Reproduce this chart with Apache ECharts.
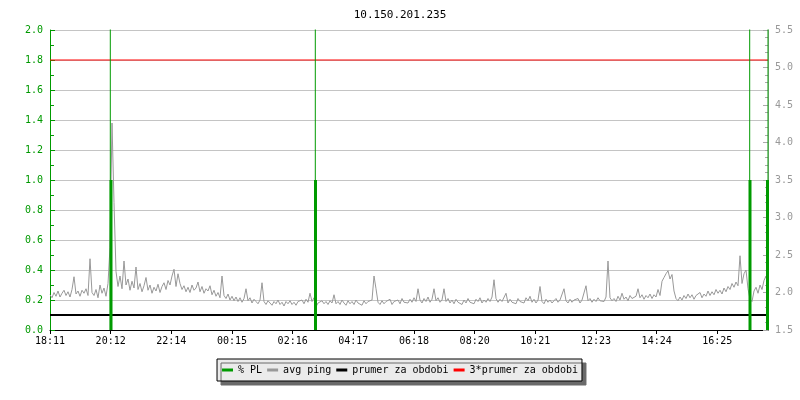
<!DOCTYPE html>
<html>
<head>
<meta charset="utf-8">
<script src="https://cdn.jsdelivr.net/npm/echarts@6/dist/echarts.min.js"></script>
<style>html,body{margin:0;padding:0;background:#fff}#c{width:800px;height:400px}</style>
</head>
<body>
<div id="c"></div>
<script>
const chartTitle = '10.150.201.235';
const xLabels = ['18:11','20:12','22:14','00:15','02:16','04:17','06:18','08:20','10:21','12:23','14:24','16:25'];
const xSpanMinutes = 1436;          // minutes after 18:11 shown on the axis
const xLabelStep = 364 / 3;         // minutes between labelled ticks
const pingStep = 4;                 // minutes between avg ping samples
const pingValues = [
 1.97,1.93,2.00,1.95,2.02,1.94,1.99,2.03,1.96,2.01,1.94,2.04,2.21,1.98,2.02,1.95,2.03,1.99,2.05,1.96,
 2.45,2.00,1.96,2.04,1.93,2.10,1.99,2.06,1.95,2.12,2.60,4.26,3.20,2.28,2.08,2.22,2.05,2.42,2.10,2.18,
 2.03,2.15,2.06,2.34,2.04,2.12,2.01,2.09,2.20,2.03,2.10,1.99,2.07,2.02,2.11,2.00,2.08,2.13,2.04,2.16,
 2.10,2.22,2.31,2.08,2.25,2.12,2.04,2.09,2.01,2.07,2.00,2.10,2.03,2.06,2.14,2.01,2.08,1.99,2.05,2.02,
 2.09,1.97,2.03,1.95,2.00,1.93,2.22,1.96,1.92,1.98,1.90,1.95,1.89,1.94,1.88,1.93,1.87,1.92,2.05,1.89,
 1.93,1.86,1.91,1.88,1.85,1.90,2.13,1.88,1.84,1.89,1.86,1.83,1.88,1.85,1.90,1.84,1.87,1.82,1.88,1.85,
 1.89,1.84,1.87,1.83,1.88,1.86,1.90,1.85,1.91,1.87,1.99,1.88,1.93,1.81,1.86,1.84,1.89,1.85,1.88,1.84,
 1.89,1.86,1.97,1.85,1.88,1.84,1.90,1.86,1.83,1.89,1.85,1.88,1.84,1.90,1.86,1.87,1.83,1.89,1.85,1.88,
 1.86,1.90,2.22,2.05,1.87,1.84,1.89,1.85,1.88,1.86,1.91,1.84,1.88,1.86,1.90,1.85,1.92,1.87,1.89,1.86,
 1.91,1.87,1.93,1.88,2.05,1.90,1.86,1.92,1.88,1.94,1.87,1.91,2.05,1.89,1.93,1.87,1.90,2.05,1.88,1.92,
 1.86,1.90,1.85,1.91,1.87,1.89,1.84,1.90,1.86,1.92,1.87,1.89,1.85,1.91,1.88,1.93,1.86,1.90,1.87,1.92,
 1.88,1.94,2.17,1.92,1.87,1.91,1.88,1.90,1.99,1.86,1.91,1.87,1.89,1.85,1.92,1.88,1.90,1.86,1.93,1.89,
 1.95,1.87,1.91,1.86,1.90,2.08,1.88,1.85,1.91,1.87,1.90,1.86,1.89,1.92,1.87,1.90,1.88,2.05,1.89,1.86,
 1.91,1.87,1.90,1.88,1.92,1.86,1.90,1.88,2.09,1.89,1.92,1.87,1.91,1.88,1.93,1.89,1.91,1.88,1.94,2.42,
 1.93,1.89,1.92,1.88,1.95,1.90,1.99,1.91,1.94,1.89,1.96,1.92,1.90,1.95,2.05,1.93,1.97,1.91,1.96,1.93,
 1.98,1.92,1.97,1.94,2.04,1.96,2.15,2.20,2.25,2.29,2.18,2.24,2.02,1.92,1.89,1.94,1.90,1.96,1.92,1.98,
 1.93,1.97,1.91,1.96,1.94,2.00,1.93,1.98,1.95,2.02,1.96,2.01,1.97,2.04,1.99,2.03,1.98,2.06,2.01,2.08,
 2.04,2.12,2.07,2.14,2.09,2.49,2.12,2.25,2.30,2.05,1.91,1.88,2.02,2.07,1.99,2.10,2.04,2.16,2.22,2.13
];
const prumerValue = 1.7;            // prumer za obdobi (ms)
const prumer3Value = 5.1;           // 3*prumer za obdobi (ms)
// % PL samples of 1 %: [minutes after 18:11, percent]
const plBlocks = [[122, 1.0], [531, 1.0], [1400, 1.0], [1435, 1.0]];
// % PL samples of total loss (100 %, beyond the axis): minutes after 18:11
const plTotalLossTimes = [120.6, 530.6, 1399.4, 1436];
const plTotalLossValue = 100;

const GREEN = '#009a00';
const MONO = '"DejaVu Sans Mono", "Liberation Mono", monospace';
const pingData = pingValues.map((v, i) => [i * pingStep, v]);
const plSpikeData = [];
plTotalLossTimes.forEach((t, i) => {
  if (i) plSpikeData.push(['-', '-']);
  plSpikeData.push([t, 0], [t, plTotalLossValue]);
});

const chart = echarts.init(document.getElementById('c'), null, {renderer: 'canvas'});
chart.setOption({
  animation: false,
  backgroundColor: '#ffffff',
  title: {
    text: chartTitle, left: 'center', top: 5,
    textStyle: {fontFamily: MONO, fontSize: 11, fontWeight: 'normal', color: '#000'}
  },
  grid: {left: 50, right: 32, top: 30, bottom: 70, containLabel: false},
  legend: {
    data: ['% PL', 'avg ping', 'prumer za obdobi', '3*prumer za obdobi'],
    left: 'center', top: 359,
    icon: 'rect', itemWidth: 11, itemHeight: 3, itemGap: 5,
    padding: [6, 4, 6, 5],
    backgroundColor: '#ebebeb', borderColor: '#000', borderWidth: 1,
    shadowColor: '#6a6a6a', shadowBlur: 0, shadowOffsetX: 4, shadowOffsetY: 4,
    textStyle: {fontFamily: MONO, fontSize: 10, color: '#000'}
  },
  xAxis: {
    type: 'value', min: 0, max: xSpanMinutes, interval: xLabelStep,
    axisLine: {show: true, onZero: false, lineStyle: {color: '#000', width: 1}},
    axisTick: {show: true, length: 4, lineStyle: {color: '#000'}},
    splitLine: {show: false},
    axisLabel: {
      color: '#000', fontFamily: MONO, fontSize: 10, margin: 6, showMaxLabel: false,
      formatter: v => { const i = Math.round(v / xLabelStep); return i < xLabels.length ? xLabels[i] : ''; }
    }
  },
  yAxis: [
    {
      type: 'value', position: 'left', min: 0, max: 2, interval: 0.2,
      axisLine: {show: true, lineStyle: {color: GREEN, width: 1}},
      axisTick: {show: true, inside: true, length: 5, lineStyle: {color: GREEN}},
      minorTick: {show: true, splitNumber: 2, length: 4, lineStyle: {color: GREEN}},
      splitLine: {show: true, lineStyle: {color: '#c4c4c4', width: 1}},
      axisLabel: {color: GREEN, fontFamily: MONO, fontSize: 10, margin: 7, formatter: v => v.toFixed(1)}
    },
    {
      type: 'value', position: 'right', min: 1.5, max: 5.5, interval: 0.5,
      axisLine: {show: true, lineStyle: {color: '#aaaaaa', width: 1}},
      axisTick: {show: true, inside: true, length: 5, lineStyle: {color: '#aaaaaa'}},
      minorTick: {show: true, splitNumber: 5, length: 3, lineStyle: {color: '#aaaaaa'}},
      splitLine: {show: false},
      axisLabel: {color: '#999999', fontFamily: MONO, fontSize: 10, margin: 7, formatter: v => v.toFixed(1)}
    }
  ],
  series: [
    {
      name: 'avg ping', type: 'line', yAxisIndex: 1, data: pingData,
      showSymbol: false, symbol: 'none', z: 2,
      lineStyle: {color: '#999999', width: 1}, itemStyle: {color: '#999999'}
    },
    {
      name: 'prumer za obdobi', type: 'line', yAxisIndex: 1,
      data: [[0, prumerValue], [xSpanMinutes, prumerValue]],
      showSymbol: false, symbol: 'none', z: 3,
      lineStyle: {color: '#000000', width: 2}, itemStyle: {color: '#000000'}
    },
    {
      name: '3*prumer za obdobi', type: 'line', yAxisIndex: 1,
      data: [[0, prumer3Value], [xSpanMinutes, prumer3Value]],
      showSymbol: false, symbol: 'none', z: 3,
      lineStyle: {color: '#ff0000', width: 1}, itemStyle: {color: '#ff0000'}
    },
    {
      name: '% PL', type: 'bar', yAxisIndex: 0, data: plBlocks,
      barWidth: 3, clip: true, z: 5,
      itemStyle: {color: GREEN}
    },
    {
      name: '% PL', type: 'line', yAxisIndex: 0, data: plSpikeData,
      showSymbol: false, symbol: 'none', connectNulls: false, clip: true, z: 5,
      lineStyle: {color: GREEN, width: 1}, itemStyle: {color: GREEN}
    }
  ]
});
</script>
</body>
</html>
